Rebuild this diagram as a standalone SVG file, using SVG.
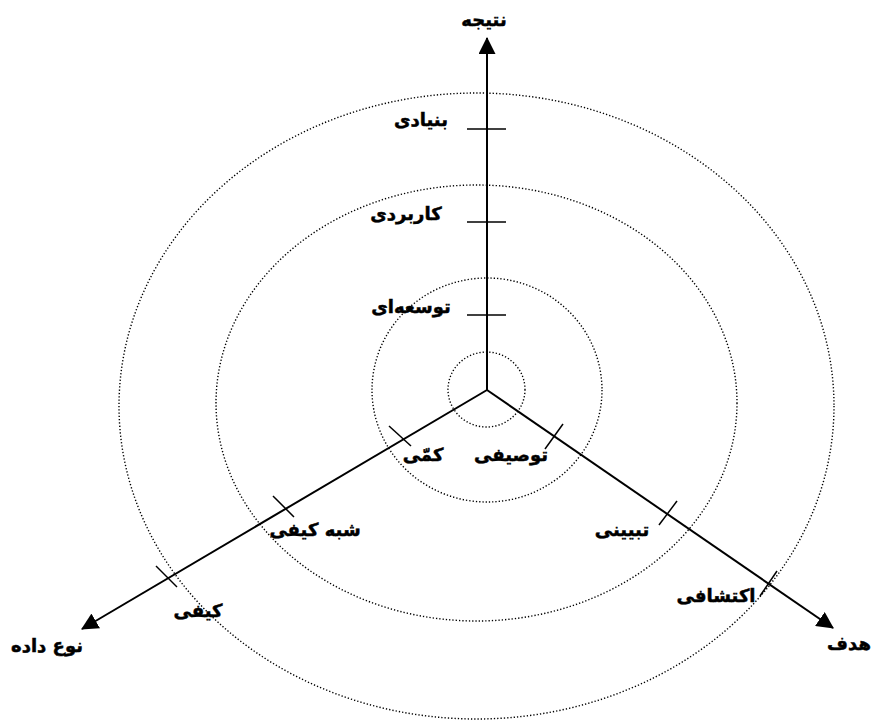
<svg xmlns="http://www.w3.org/2000/svg" width="874" height="721" viewBox="0 0 874 721">
<style>
.ring{fill:none;stroke:#000;stroke-width:1.4;stroke-dasharray:1.3 2}
.axis{fill:none;stroke:#000;stroke-width:2}
.tick{fill:none;stroke:#000;stroke-width:1.5}
.lbl{font-family:"DejaVu Sans","Noto Sans",sans-serif;font-weight:bold;font-size:18px;text-anchor:middle;fill:#000;stroke:#000;stroke-width:0.5}
</style>
<defs>
<marker id="arr" viewBox="0 0 16 16" refX="15" refY="8" markerWidth="17" markerHeight="17" markerUnits="userSpaceOnUse" orient="auto">
<path d="M0,0 L16,8 L0,16 Z" fill="#000"/>
</marker>
</defs>
<rect width="874" height="721" fill="#fff"/>
<g id="rings">
<ellipse id="ring1" class="ring" cx="486.5" cy="389.5" rx="38.5" ry="37.5"/>
<ellipse id="ring2" class="ring" cx="487" cy="390" rx="115" ry="112"/>
<ellipse id="ring3" class="ring" cx="476.5" cy="403" rx="260.5" ry="218"/>
<ellipse id="ring4" class="ring" cx="476.5" cy="406" rx="357.5" ry="313"/>
</g>
<g id="connectors">
<line class="axis" x1="487" y1="390" x2="487" y2="38" marker-end="url(#arr)"/>
<line class="axis" x1="487" y1="390" x2="82" y2="629" marker-end="url(#arr)"/>
<line class="axis" x1="487" y1="390" x2="833" y2="628" marker-end="url(#arr)"/>
</g>
<g id="ticks">
<line class="tick" x1="467" y1="129" x2="506" y2="129"/>
<line class="tick" x1="467" y1="222" x2="506" y2="222"/>
<line class="tick" x1="467" y1="315" x2="506" y2="315"/>
<line class="tick" x1="389" y1="426" x2="411" y2="446"/>
<line class="tick" x1="273" y1="496" x2="294" y2="517"/>
<line class="tick" x1="156" y1="566" x2="177" y2="587"/>
<line class="tick" x1="545" y1="449" x2="563" y2="424"/>
<line class="tick" x1="659" y1="525" x2="677" y2="501"/>
<line class="tick" x1="760" y1="596" x2="777" y2="571"/>
</g>
<g id="node-natije"><text class="lbl" x="484" y="26">نتیجه</text></g>
<g id="node-bonyadi"><text class="lbl" x="421" y="126">بنیادی</text></g>
<g id="node-karbordi"><text class="lbl" x="406" y="220">کاربردی</text></g>
<g id="node-tosee"><text class="lbl" x="411" y="313">توسعه‌ای</text></g>
<g id="node-kammi"><text class="lbl" x="423" y="461">کمّی</text></g>
<g id="node-tosifi"><text class="lbl" x="511" y="461">توصیفی</text></g>
<g id="node-shebhkeyfi"><text class="lbl" x="315" y="536">شبه کیفی</text></g>
<g id="node-keyfi"><text class="lbl" x="198" y="617">کیفی</text></g>
<g id="node-noedade"><text class="lbl" x="47" y="652">نوع داده</text></g>
<g id="node-tabyini"><text class="lbl" x="622" y="536">تبیینی</text></g>
<g id="node-ekteshafi"><text class="lbl" x="716" y="602">اکتشافی</text></g>
<g id="node-hadaf"><text class="lbl" x="849" y="650">هدف</text></g>
</svg>
